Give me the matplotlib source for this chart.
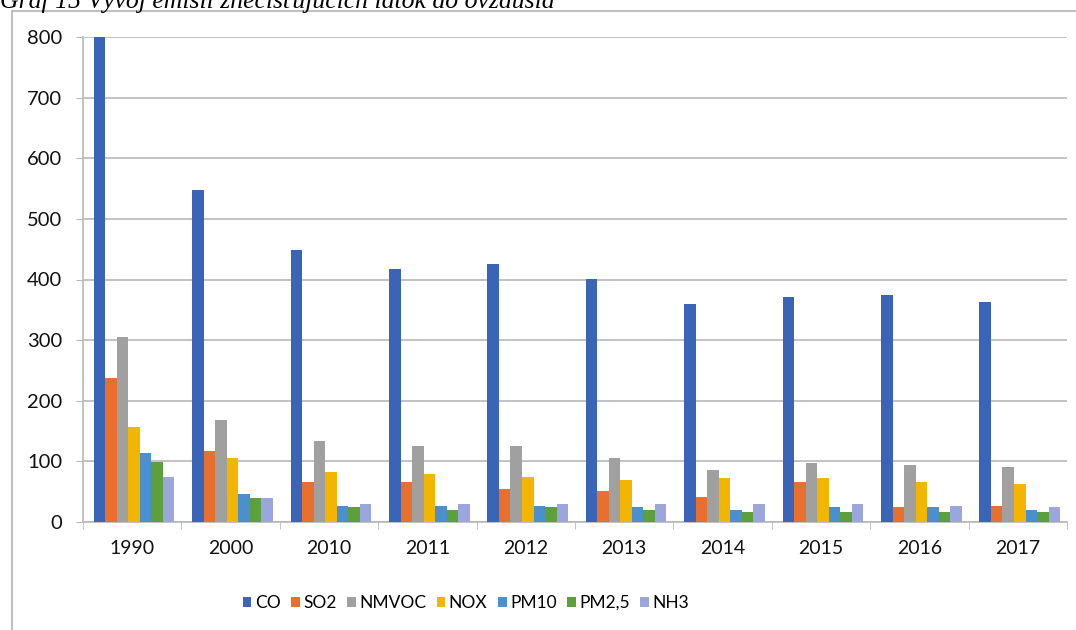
import numpy as np
import matplotlib.pyplot as plt
from matplotlib.patches import Rectangle

years = ['1990', '2000', '2010', '2011', '2012', '2013', '2014', '2015', '2016', '2017']
co = [803, 547, 449, 418, 425, 401, 359, 371, 374, 363]
so2 = [238, 117, 66, 66, 54, 51, 42, 66, 24, 27]
nmvoc = [305, 169, 133, 125, 125, 105, 85, 97, 94, 90]
nox = [157, 105, 82, 79, 74, 70, 73, 72, 66, 63]
pm10 = [113, 47, 27, 26, 26, 24, 19, 24, 24, 19]
pm25 = [99, 39, 24, 19, 24, 19, 16, 16, 16, 16]
nh3 = [74, 39, 30, 30, 30, 30, 30, 30, 27, 24]

names = ['CO', 'SO2', 'NMVOC', 'NOX', 'PM10', 'PM2,5', 'NH3']
series = [co, so2, nmvoc, nox, pm10, pm25, nh3]
colors = ['#3a64b8', '#e8702c', '#a0a0a0', '#f2b600', '#4a8fd0', '#5ca03c', '#9aa6dc']

plt.rcParams['font.family'] = ['Lato', 'DejaVu Sans']

fig = plt.figure(figsize=(10.76, 6.3), dpi=100)
W, H = 1076, 630
ax = fig.add_axes([83 / W, 1 - 522 / H, (1067 - 83) / W, (522 - 37) / H])

x = np.arange(len(years))
bw = 0.117
for i, (vals, c, n) in enumerate(zip(series, colors, names)):
    ax.bar(x + (i - 3) * bw + 0.02, vals, bw, color=c, label=n, zorder=3)

ax.set_xlim(-0.5, len(years) - 0.5)
ax.set_ylim(0, 800)
ax.set_yticks(range(0, 801, 100))
ax.yaxis.grid(True, color='#b8b8b8', linewidth=1.2, zorder=0)
ax.set_xticks(x)
ax.set_xticklabels(years, fontsize=14, color='#111111')
ax.set_xticks(np.arange(-0.5, len(years), 1), minor=True)
ax.tick_params(axis='x', which='major', length=0, pad=13)
ax.tick_params(axis='x', which='minor', length=5, color='#b8b8b8')
ax.tick_params(axis='y', length=5, color='#b8b8b8', labelsize=14.5, labelcolor='#111111', pad=10)
for s in ['top', 'right']:
    ax.spines[s].set_visible(False)
for s in ['left', 'bottom']:
    ax.spines[s].set_color('#b8b8b8')
    ax.spines[s].set_linewidth(1.2)

leg = ax.legend(loc='center', bbox_to_anchor=(0.433, 1 - 603 / H), bbox_transform=fig.transFigure,
                ncol=7, frameon=False, handlelength=0.5, handleheight=0.5,
                handletextpad=0.2, columnspacing=0.6,
                prop={'family': ['Liberation Sans Narrow', 'Lato'], 'size': 12.5})

fig.patches.append(Rectangle((12 / W, -0.1), 1.2, 1 - 11 / H + 0.1, transform=fig.transFigure,
                             fill=False, edgecolor='#c0c0c0', linewidth=1.5, zorder=0))
fig.text(0, 1 - 8 / H, 'Graf 15 Vývoj emisií znečisťujúcich látok do ovzdušia',
         family='Liberation Serif', style='italic', fontsize=18.5, va='baseline', ha='left')

fig.savefig('out.png', dpi=100)
